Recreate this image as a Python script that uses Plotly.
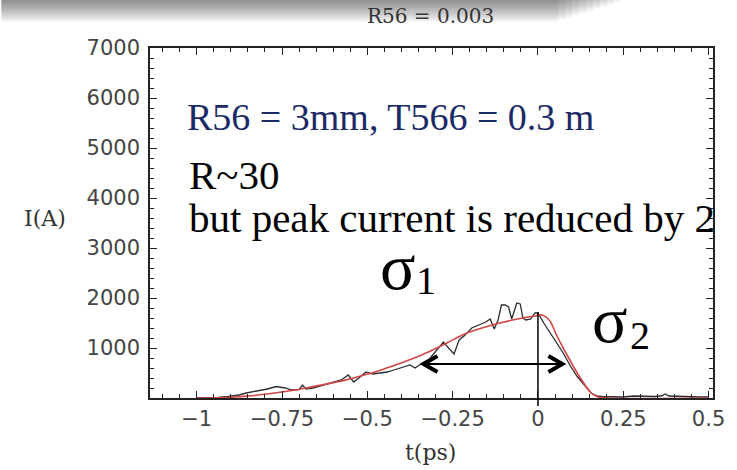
import plotly.graph_objects as go

# ---------------- data ----------------
meas_t = [-1.0, -0.989, -0.938, -0.907, -0.876, -0.855, -0.824, -0.793, -0.767, -0.741,
          -0.721, -0.700, -0.690, -0.680, -0.659, -0.628, -0.597, -0.576, -0.556, -0.540,
          -0.525, -0.504, -0.484, -0.463, -0.442, -0.422, -0.391, -0.375, -0.360, -0.339,
          -0.318, -0.303, -0.277, -0.262, -0.246, -0.231, -0.215, -0.194, -0.174, -0.153,
          -0.140, -0.128, -0.117, -0.107, -0.096, -0.086, -0.077, -0.062, -0.052, -0.044,
          -0.035, -0.021, -0.009, 0.0, 0.017, 0.038, 0.055, 0.074, 0.095, 0.115,
          0.136, 0.156, 0.172, 0.187, 0.218, 0.249, 0.280, 0.311, 0.342, 0.363,
          0.373, 0.384, 0.414, 0.445, 0.476, 0.5]
meas_I = [0, 0, 10, 30, 60, 100, 140, 180, 230, 200,
          160, 170, 260, 180, 200, 260, 320, 360, 460, 320,
          400, 520, 480, 500, 520, 560, 620, 660, 600, 700,
          780, 900, 1120, 1000, 880, 1160, 1250, 1400, 1460, 1520,
          1580, 1380, 1560, 1860, 1860, 1820, 1580, 1900, 1880, 1600,
          1560, 1580, 1700, 1700, 1500, 1280, 1100, 900, 640, 430,
          260, 100, 40, 30, 25, 20, 40, 35, 30, 45,
          80, 40, 30, 25, 20, 20]

fit_t = [-1.0, -0.938, -0.886, -0.834, -0.783, -0.731, -0.680, -0.628, -0.576, -0.525,
         -0.473, -0.422, -0.370, -0.318, -0.267, -0.215, -0.164, -0.112, -0.060, -0.009,
         0.012, 0.033, 0.053, 0.074, 0.095, 0.115, 0.136, 0.156, 0.177, 0.198, 0.5]
fit_I = [0, 5, 20, 50, 90, 140, 200, 270, 340, 430,
         530, 650, 780, 930, 1100, 1280, 1400, 1500, 1580, 1640,
         1660, 1560, 1280, 1000, 740, 500, 280, 100, 20, 0, 0]

x_ticks = [-1, -0.75, -0.5, -0.25, 0, 0.25, 0.5]
x_tick_text = ["\u22121", "\u22120.75", "\u22120.5", "\u22120.25", "0", "0.25", "0.5"]
y_ticks = [1000, 2000, 3000, 4000, 5000, 6000, 7000]

title_text = "R56 = 0.003"
x_label = "t(ps)"
y_label = "I(A)"
note_blue = "R56 = 3mm, T566 = 0.3 m"
note_1 = "R~30"
note_2 = "but peak current is reduced by 2"
sigma_char = "\u03c3"
sigma_subs = ["1", "2"]

# ---------------- layout helpers (pixel -> paper) ----------------
W, H = 737, 470
ML, MR, MT, MB = 150, 19, 48, 72
PW, PH = W - ML - MR, H - MT - MB


def px(x):
    return (x - ML) / PW


def py(y):
    return (H - MB - y) / PH


fig = go.Figure()
fig.add_trace(go.Scatter(x=meas_t, y=meas_I, mode="lines",
                         line=dict(color="rgb(45,45,45)", width=1.3),
                         showlegend=False, hoverinfo="skip"))
fig.add_trace(go.Scatter(x=fit_t, y=fit_I, mode="lines", line_shape="spline",
                         line=dict(color="rgb(210,70,70)", width=1.6),
                         showlegend=False, hoverinfo="skip"))

axis_common = dict(showline=True, linecolor="#222", linewidth=1.5, mirror="ticks",
                   ticks="inside", ticklen=7, tickwidth=1, tickcolor="#222",
                   showgrid=False, zeroline=False,
                   tickfont=dict(family="DejaVu Sans", size=21, color="#444"))

fig.update_xaxes(range=[-1.137, 0.513], tickvals=x_ticks, ticktext=x_tick_text,
                 minor=dict(ticks="inside", ticklen=4, tickcolor="#222", dtick=0.05, tick0=-1),
                 ticklabelstandoff=1, **axis_common)
fig.update_yaxes(range=[0, 7000], tickvals=y_ticks,
                 minor=dict(ticks="inside", ticklen=4, tickcolor="#222", dtick=200, tick0=0),
                 ticklabelstandoff=4, **axis_common)

shapes = []
# top shadow band (slide artefact)
for k in range(10):
    shapes.append(dict(type="rect", xref="paper", yref="paper",
                       x0=px(0), x1=px(625 - 7 * k), y0=py(2 + 2.2 * k), y1=py(-2),
                       line=dict(width=0), fillcolor="rgba(0,0,0,0.05)", layer="above"))
# vertical marker at t = 0
shapes.append(dict(type="line", xref="x", yref="paper", x0=0, x1=0,
                   y0=py(406), y1=py(312), line=dict(color="black", width=1.5)))
# double arrow
shapes.append(dict(type="path", xref="paper", yref="paper",
                   path=f"M {px(427)},{py(364)} L {px(564)},{py(364)}",
                   line=dict(color="black", width=2)))
shapes.append(dict(type="path", xref="paper", yref="paper",
                   path=f"M {px(440)},{py(356)} L {px(426)},{py(364)} L {px(440)},{py(372)}",
                   line=dict(color="black", width=4)))
shapes.append(dict(type="path", xref="paper", yref="paper",
                   path=f"M {px(552)},{py(356)} L {px(566)},{py(364)} L {px(552)},{py(372)}",
                   line=dict(color="black", width=4)))


def txt(text, x, y, size, color="black", family="Liberation Serif", anchor="left", **kw):
    return dict(text=text, x=px(x), y=py(y), xref="paper", yref="paper",
                showarrow=False, xanchor=anchor, yanchor="middle",
                font=dict(family=family, size=size, color=color), **kw)


ann = [
    txt(title_text, 433, 16, 20, "#333", "DejaVu Serif", "center"),
    txt(y_label, 44, 218, 22, "#333", "DejaVu Serif", "center"),
    txt(x_label, 433, 452, 22, "#333", "DejaVu Serif", "center"),
    txt(note_blue, 185, 117, 38, "#1b2a66"),
    txt(note_1, 187, 175, 41),
    txt(note_2, 187, 218, 41),
    txt(sigma_char, 380, 266, 66, height=48),
    txt(sigma_subs[0], 416, 280, 40),
    txt(sigma_char, 594, 319, 66, height=48),
    txt(sigma_subs[1], 632, 335, 40),
]

fig.update_layout(width=W, height=H, margin=dict(l=ML, r=MR, t=MT, b=MB),
                  paper_bgcolor="white", plot_bgcolor="white",
                  shapes=shapes, annotations=ann, showlegend=False)

fig.write_html("out.html")
